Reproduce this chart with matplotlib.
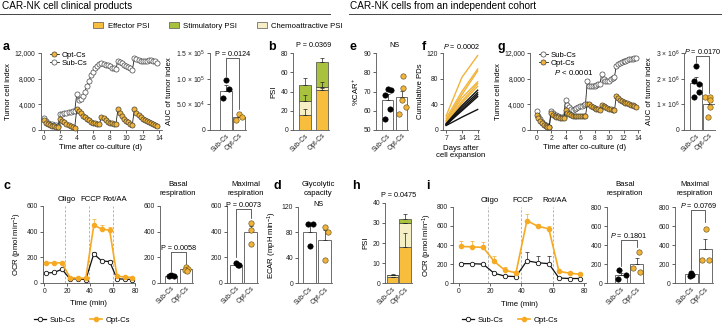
import numpy as np
import matplotlib.pyplot as plt
from matplotlib.lines import Line2D
from matplotlib.patches import Patch

plt.rcParams['font.family'] = ['Liberation Sans', 'DejaVu Sans']
plt.rcParams['mathtext.fontset'] = 'custom'
plt.rcParams['mathtext.rm'] = 'Liberation Sans'
plt.rcParams['mathtext.it'] = 'Liberation Sans:italic'
plt.rcParams['axes.linewidth'] = 0.6

GOLD = '#F0B43A'
ORANGE = '#F6AA24'
EFF = '#F7BE3E'
STIM = '#A9C23E'
CHEMO = '#F6EFC6'
BAR = '#555555'
AX = '#555555'
GROUPS = ['Sub-Cs', 'Opt-Cs']

# ---- data -------------------------------------------------------------
# tumor cell index (panels a, g)
t_tumor = [0, 0.25, 0.5, 0.75, 1.0, 1.25, 1.5, 1.75,
           2.0, 2.25, 2.5, 2.75, 3.0, 3.25, 3.5, 3.75,
           4.0, 4.25, 4.5, 4.75, 5.0, 5.25, 5.5, 5.75, 6.0, 6.25, 6.5, 6.75,
           7.0, 7.25, 7.5, 7.75, 8.0, 8.25, 8.5, 8.75,
           9.0, 9.25, 9.5, 9.75, 10.0, 10.25, 10.5, 10.75,
           11.0, 11.25, 11.5, 11.75, 12.0, 12.25, 12.5, 12.75, 13.0, 13.25, 13.5, 13.75]
a_opt = [1500, 1150, 950, 800, 700, 600, 500, 420,
         1700, 1450, 1200, 1000, 800, 650, 500, 350,
         3200, 3000, 2600, 2250, 1950, 1700, 1500, 1300, 1150, 1050, 950, 900,
         2100, 1800, 1500, 1300, 1150, 1050, 950, 900,
         3200, 2600, 2150, 1750, 1450, 1200, 1000, 850,
         3300, 2700, 2300, 2000, 1750, 1550, 1350, 1200, 1050, 900, 800, 650]
a_sub = [1900, 1450, 1150, 1000, 900, 820, 750, 680,
         2500, 2550, 2650, 2700, 2800, 2850, 2900, 2950,
         5600, 4700, 4800, 5300, 6000, 6900, 7700, 8500, 9100, 9600, 10000, 10300,
         10400, 10300, 10200, 10100, 9900, 9700, 9600, 9500,
         10800, 10600, 10400, 10200, 10000, 9800, 9600, 9400,
         11200, 11000, 10900, 10800, 10700, 10700, 10800, 10900, 10900, 10800, 10700, 10500]
g_opt = [2300, 1800, 1400, 1100, 850, 650, 500, 400,
         2600, 2350, 2200, 2050, 1950, 1850, 1800, 1800,
         3100, 2700, 2450, 2300, 2250, 2200, 2150, 2150, 2150, 2150, 2150, 2200,
         4100, 4000, 3800, 3600, 3450, 3350, 3250, 3150,
         3900, 3800, 3600, 3450, 3350, 3250, 3150, 3050,
         5300, 5000, 4750, 4550, 4400, 4250, 4150, 4050, 3950, 3850, 3750, 3650]
g_sub = [3000, 2200, 1700, 1300, 1000, 750, 600, 500,
         3000, 2600, 2400, 2300, 2200, 2100, 2050, 2000,
         4700, 3900, 3600, 3300, 3150, 3250, 3400, 3600, 3700, 3800, 3900, 4000,
         7600, 6900, 6800, 6800, 6900, 7000, 7100, 7200,
         8800, 8000, 7700, 7600, 7700, 7900, 8100, 8300,
         10000, 10300, 10500, 10600, 10700, 10800, 10900, 11000, 11050, 11100, 11150, 11200]

# AUC of tumor index
a_auc_pts = [[97000, 80000, 62000], [32000, 26000, 20000]]
a_auc_mean = [76000, 26000]
a_auc_err = [11000, 3500]
g_auc_pts = [[2.5e6, 1.9e6, 1.8e6, 1.5e6, 1.3e6], [1.3e6, 1.3e6, 1.15e6, 0.9e6, 0.5e6]]
g_auc_mean = [1.85e6, 1.03e6]
g_auc_err = [0.2e6, 0.15e6]

# PSI stacked bars (Sub-Cs, Opt-Cs)
b_eff, b_chemo, b_stim = [15.5, 42], [14.5, 3], [17, 26]
b_eff_err, b_chemo_err, b_stim_err = [6.5, 1.5], [6, 5], [7, 4]
h_eff, h_chemo, h_stim = [3.0, 17.8], [0.9, 12.2], [0.4, 1.7]
h_eff_err, h_chemo_err, h_stim_err = [0.3, 7.2], [0.3, 0], [0.5, 2.5]

# %CAR+
e_pts = [[71.5, 71, 68, 61, 55.5], [78, 72, 65.5, 62, 58.5]]
e_mean = [65.5, 67]
e_err = [3, 3.5]

# cumulative PDs
f_days = [7, 14, 21]
f_opt = [[22, 82, 116], [18, 60, 95], [15, 55, 92], [14, 50, 75], [12, 45, 72], [10, 42, 68]]
f_sub = [[10, 38, 62], [9, 35, 58], [8, 32, 55], [8, 30, 52], [7, 20, 32]]

# OCR seahorse traces
t_ocr = [1.5, 8.5, 15.5, 22.5, 29.5, 36.5, 43.5, 50.5, 57.5, 64, 71, 77.5]
c_sub = [75, 80, 105, 30, 30, 25, 225, 170, 165, 30, 28, 25]
c_sub_err = [10, 8, 12, 5, 5, 5, 15, 10, 10, 5, 5, 5]
c_opt = [155, 155, 155, 40, 35, 35, 450, 420, 410, 50, 45, 40]
c_opt_err = [8, 8, 8, 5, 5, 5, 50, 30, 25, 5, 5, 5]
i_sub = [205, 205, 200, 105, 75, 70, 235, 215, 205, 55, 50, 50]
i_sub_err = [10, 10, 10, 10, 8, 8, 95, 75, 85, 8, 8, 8]
i_opt = [385, 380, 375, 230, 135, 110, 655, 595, 570, 125, 105, 95]
i_opt_err = [55, 60, 55, 50, 35, 15, 65, 20, 30, 15, 10, 10]
inj_times = [18.5, 39.5, 60]
inj_names = ['Oligo', 'FCCP', 'Rot/AA']

c_basal_pts = [[60, 50, 55], [120, 105, 100, 95]]
c_basal_mean, c_basal_err = [55, 105], [4, 6]
c_max_pts = [[155, 140, 135], [469, 411, 300]]
c_max_mean, c_max_err = [140, 393, ], [6, 50]
d_pts = [[93, 93, 59], [88, 80, 37]]
d_mean, d_err = [81, 68], [11, 15]
i_basal_pts = [[135, 90, 45], [330, 165, 120]]
i_basal_mean, i_basal_err = [85, 200], [25, 65]
i_max_pts = [[105, 90, 80], [570, 245, 245]]
i_max_mean, i_max_err = [95, 355], [8, 110]

# ---- layout helpers ---------------------------------------------------
W, H = 722, 324
fig = plt.figure(figsize=(W / 100, H / 100), dpi=100)


def box(l, t, r, b):
    return fig.add_axes([l / W, 1 - b / H, (r - l) / W, (b - t) / H])


def ftext(x, y, s, **kw):
    fig.text(x / W, 1 - y / H, s, **kw)


def style(ax, ylim, yticks, ylabels=None, fs=4.9):
    for s in ['top', 'right']:
        ax.spines[s].set_visible(False)
    for s in ['left', 'bottom']:
        ax.spines[s].set_color(AX)
        ax.spines[s].set_linewidth(0.6)
    ax.set_ylim(*ylim)
    ax.set_yticks(yticks)
    if ylabels is not None:
        ax.set_yticklabels(ylabels)
    ax.tick_params(labelsize=fs, width=0.5, length=2, pad=1.5, colors='#222')
    ax.patch.set_alpha(0)


def bar_axes(spine, c0, c1, top, bot, bw):
    ppu = c1 - c0
    right = c1 + bw / 2 + 1
    ax = box(spine, top, right, bot)
    ax.set_xlim(-(c0 - spine) / ppu, 1 + (right - c1) / ppu)
    ax.set_xticks([0, 1])
    ax.set_xticklabels(GROUPS, rotation=45, ha='right', rotation_mode='anchor')
    return ax, bw / ppu


def bar_panel(spine, c0, c1, top, bot, bw, means, errs, pts, offs, ylim, yticks, ylabels=None):
    ax, w = bar_axes(spine, c0, c1, top, bot, bw)
    style(ax, ylim, yticks, ylabels)
    for i in range(2):
        ax.bar(i, means[i], width=w, color='white', edgecolor=BAR, lw=0.6, zorder=1)
        ax.errorbar(i, means[i], yerr=[[0], [errs[i]]], color='#222', lw=0.5,
                    capsize=1.5, capthick=0.5, zorder=2)
        fc = 'black' if i == 0 else GOLD
        ec = 'black' if i == 0 else '#5a4410'
        ax.scatter([i + o for o in offs[i]], pts[i], s=15, color=fc, edgecolor=ec,
                   lw=0.4, zorder=3, clip_on=False)
    ax.tick_params(axis='x', labelsize=4.9, length=0)
    return ax


def bracket(ax, y, yl, yr, text, fs=5.2):
    ax.plot([0, 0, 1, 1], [yl, y, y, yr], color='#222', lw=0.5, clip_on=False)
    ax.text(0.5, y, text, ha='center', va='bottom', fontsize=fs)


def stacked(spine, c0, c1, top, bot, bw, eff, chemo, stim, ee, ce, se, ylim, yticks):
    ax, w = bar_axes(spine, c0, c1, top, bot, bw)
    style(ax, ylim, yticks)
    x = [0, 1]
    b2 = [e + c for e, c in zip(eff, chemo)]
    b3 = [v + s for v, s in zip(b2, stim)]
    ax.bar(x, eff, width=w, color=EFF, edgecolor='#444', lw=0.5)
    ax.bar(x, chemo, bottom=eff, width=w, color=CHEMO, edgecolor='#444', lw=0.5)
    ax.bar(x, stim, bottom=b2, width=w, color=STIM, edgecolor='#444', lw=0.5)
    for tops, err in [(eff, ee), (b2, ce), (b3, se)]:
        ax.errorbar(x, tops, yerr=[[0, 0], err], fmt='none', ecolor='#222', lw=0.5,
                    capsize=1.5, capthick=0.5)
    ax.tick_params(axis='x', labelsize=4.9, length=0)
    return ax


def tumor_panel(l, r, xlim, t, first, second, first_lab, second_lab, first_gold):
    ax = box(l, 53, r, 130)
    style(ax, (0, 12000), [0, 4000, 8000, 12000], ['0', '4,000', '8,000', '12,000'])
    ax.set_xlim(*xlim)
    ax.set_xticks(range(0, 15, 2))
    ax.tick_params(axis='x', labelsize=4.9)
    for vals, lab, gold in [(second, second_lab, not first_gold), (first, first_lab, first_gold)]:
        ax.plot(t, vals, color='#222', lw=0.6, marker='o', ms=3.7,
                mfc=GOLD if gold else 'white', mec='#333', mew=0.45, clip_on=False,
                label=lab, zorder=3 if gold else 2)
    ax.set_ylabel('Tumor cell index', fontsize=5.6, labelpad=2)
    ax.set_xlabel('Time after co-culture (d)', fontsize=5.6, labelpad=1.5)
    h, lb = ax.get_legend_handles_labels()
    return ax, h[::-1], lb[::-1]


def ocr_panel(l, r, top, bot, xlim, ylim, yticks, sub, sube, opt, opte, fs_lab=5.6):
    ax = box(l, top, r, bot)
    style(ax, ylim, yticks)
    ax.set_xlim(*xlim)
    ax.set_xticks([0, 20, 40, 60, 80])
    for x in inj_times:
        ax.axvline(x, color='#aaaaaa', lw=0.6, ls=(0, (3, 2)), zorder=0)
    ax.errorbar(t_ocr, opt, yerr=[[0] * len(opte), opte], fmt='none', ecolor=ORANGE,
                lw=0.5, capsize=1.5, capthick=0.5)
    ax.errorbar(t_ocr, sub, yerr=[[0] * len(sube), sube], fmt='none', ecolor='#222',
                lw=0.5, capsize=1.5, capthick=0.5)
    ax.plot(t_ocr, sub, color='#111', lw=0.9, marker='o', ms=3.2, mfc='white',
            mec='#111', mew=0.6, label='Sub-Cs', clip_on=False, zorder=3)
    ax.plot(t_ocr, opt, color=ORANGE, lw=1.2, marker='o', ms=3.0, mfc=ORANGE,
            mec=ORANGE, label='Opt-Cs', clip_on=False, zorder=3)
    ax.set_ylabel('OCR (pmol min$^{-1}$)', fontsize=fs_lab, labelpad=2)
    ax.set_xlabel('Time (min)', fontsize=fs_lab, labelpad=4)
    for x, n in zip(inj_times, inj_names):
        ax.text(x + 1.5, ylim[1] * 1.04, n, ha='center', va='bottom', fontsize=5.6)
    return ax


# ---- headers ----------------------------------------------------------
ftext(2, 6, 'CAR-NK cell clinical products', fontsize=7.2, va='center')
ftext(350, 6, 'CAR-NK cells from an independent cohort', fontsize=7.2, va='center')
fig.add_artist(Line2D([0, 330 / W], [1 - 14 / H] * 2, color='#444', lw=0.7))
fig.add_artist(Line2D([349 / W, 1], [1 - 14 / H] * 2, color='#444', lw=0.7))

for x, y, s in [(3, 47, 'a'), (268, 47, 'b'), (350, 47, 'e'), (422, 47, 'f'), (497, 47, 'g'),
                (4, 186, 'c'), (273, 186, 'd'), (352, 186, 'h'), (426, 186, 'i')]:
    ftext(x, y, s, fontsize=9, fontweight='bold', va='center')

# PSI legend
psi_handles = [Patch(facecolor=c, edgecolor='#555', lw=0.5, label=l) for c, l in
               [(EFF, 'Effector PSI'), (STIM, 'Stimulatory PSI'), (CHEMO, 'Chemoattractive PSI')]]
fig.legend(handles=psi_handles, loc='center', bbox_to_anchor=(218 / W, 1 - 26 / H), ncol=3,
           frameon=False, fontsize=5.6, handlelength=1.3, handleheight=0.8, columnspacing=2.5,
           handletextpad=0.6)

# ---- a ----------------------------------------------------------------
ax, hh, ll = tumor_panel(40.5, 161.6, (-0.4, 14.3), t_tumor, a_opt, a_sub, 'Opt-Cs', 'Sub-Cs', True)
ax.legend(hh, ll, loc='upper left', bbox_to_anchor=(0.05, 1.06), frameon=False, fontsize=5.6,
          handlelength=1.2, handletextpad=0.4, labelspacing=0.05, borderaxespad=0)

ax = bar_panel(210, 226, 239, 53, 130, 12.5, a_auc_mean, a_auc_err, a_auc_pts,
               [[0, 0.25, -0.2], [0, 0.22, -0.2]], (0, 150000), [0, 50000, 100000, 150000],
               ['0', '5.0 × 10$^4$', '1.0 × 10$^5$', '1.5 × 10$^5$'])
ax.set_ylabel('AUC of tumor index', fontsize=5.6, labelpad=2)
bracket(ax, 140000, 105000, 40000, 'P = 0.0124')

# ---- b ----------------------------------------------------------------
ax = stacked(293, 305, 321.5, 53, 130, 12, b_eff, b_chemo, b_stim, b_eff_err, b_chemo_err,
             b_stim_err, (0, 80), [0, 20, 40, 60, 80])
ax.set_ylabel('PSI', fontsize=5.6, labelpad=2)
ax.text(0.5, 84, 'P = 0.0369', ha='center', va='bottom', fontsize=5.2)

# ---- e ----------------------------------------------------------------
ax = bar_panel(376, 387.5, 401.5, 53, 130, 11.5, e_mean, e_err, e_pts,
               [[0.05, 0.25, -0.15, 0.2, -0.15], [0.1, 0.1, 0.05, 0.3, -0.15]],
               (50, 90), [50, 60, 70, 80, 90])
ax.set_ylabel('%CAR$^{+}$', fontsize=5.6, labelpad=2)
ax.text(0.5, 92, 'NS', ha='center', va='bottom', fontsize=5.2)

# ---- f ----------------------------------------------------------------
ax = box(443, 53, 479, 130)
style(ax, (0, 120), [0, 40, 80, 120])
ax.set_xlim(5.6, 21.6)
ax.set_xticks(f_days)
for ys in f_opt:
    ax.plot(f_days, ys, color=GOLD, lw=1.0, clip_on=False)
for ys in f_sub:
    ax.plot(f_days, ys, color='#111', lw=1.0, clip_on=False)
ax.set_ylabel('Cumulative PDs', fontsize=5.6, labelpad=2)
ax.set_xlabel('Days after\ncell expansion', fontsize=5.6, labelpad=2, linespacing=1.1)
ax.text(14, 123, '$\\it{P}$ = 0.0002', ha='center', va='bottom', fontsize=5.2)

# ---- g ----------------------------------------------------------------
ax, hh, ll = tumor_panel(530, 639.5, (-0.9, 14.2), t_tumor, g_sub, g_opt, 'Sub-Cs', 'Opt-Cs', False)
ax.legend(hh, ll, loc='upper left', bbox_to_anchor=(0.05, 1.06), frameon=False, fontsize=5.6,
          handlelength=1.2, handletextpad=0.4, labelspacing=0.05, borderaxespad=0)
ax.text(0.22, 0.75, '$\\it{P}$ < 0.0001', transform=ax.transAxes, fontsize=5.6, va='center')

ax = bar_panel(684, 696, 708.5, 53, 130, 12, g_auc_mean, g_auc_err, g_auc_pts,
               [[0, -0.2, 0.22, 0.22, -0.15], [-0.25, 0.15, 0.1, 0.15, -0.05]],
               (0, 3e6), [0, 1e6, 2e6, 3e6],
               ['0', '1 × 10$^6$', '2 × 10$^6$', '3 × 10$^6$'])
ax.set_ylabel('AUC of tumor index', fontsize=5.6, labelpad=2)
bracket(ax, 2.9e6, 2.65e6, 1.45e6, '$\\it{P}$ = 0.0170')

# ---- c ----------------------------------------------------------------
ax = ocr_panel(42.7, 135.2, 206, 282.7, (-1.5, 80), (0, 600), [0, 200, 400, 600],
               c_sub, c_sub_err, c_opt, c_opt_err)
fig.legend(*ax.get_legend_handles_labels(), loc='center', bbox_to_anchor=(82 / W, 1 - 320 / H),
           ncol=2, frameon=False, fontsize=5.6, handlelength=1.6, columnspacing=1.8,
           handletextpad=0.5)

ax = bar_panel(160, 171, 186, 206, 282.7, 12, c_basal_mean, c_basal_err, c_basal_pts,
               [[0, 0.2, -0.15], [0, 0.1, -0.1, 0.05]], (0, 600), [0, 200, 400, 600])
bracket(ax, 243, 90, 150, 'P = 0.0058')
ftext(178, 189, 'Basal\nrespiration', fontsize=5.6, ha='center', va='center', linespacing=1.3)

ax = bar_panel(227, 236, 250.5, 206, 282.7, 12.5, c_max_mean, c_max_err, c_max_pts,
               [[0, 0.2, 0.12], [0, 0, 0]], (0, 600), [0, 200, 400, 600])
bracket(ax, 574, 200, 510, 'P = 0.0073')
ftext(246, 189, 'Maximal\nrespiration', fontsize=5.6, ha='center', va='center', linespacing=1.3)

# ---- d ----------------------------------------------------------------
ax = bar_panel(298, 309.5, 324.5, 206.7, 283.3, 13, d_mean, d_err, d_pts,
               [[-0.1, 0.2, 0], [0.05, 0.2, 0.05]], (0, 120), [0, 40, 80, 120])
ax.set_ylabel('ECAR (mpH min$^{-1}$)', fontsize=5.6, labelpad=2)
ftext(318, 189, 'Glycolytic\ncapacity', fontsize=5.6, ha='center', va='center', linespacing=1.3)
ftext(318, 205, 'NS', fontsize=5.2, ha='center', va='center')

# ---- h ----------------------------------------------------------------
ax = stacked(385, 392.5, 405, 202.7, 283.3, 11.5, h_eff, h_chemo, h_stim, h_eff_err, h_chemo_err,
             h_stim_err, (0, 40), [0, 10, 20, 30, 40])
ax.set_ylabel('PSI', fontsize=5.6, labelpad=2)
ax.text(0.5, 42, 'P = 0.0475', ha='center', va='bottom', fontsize=5.2)

# ---- i ----------------------------------------------------------------
ax = ocr_panel(453, 586, 206.7, 283.3, (-3.8, 81.3), (0, 800), [0, 200, 400, 600, 800],
               i_sub, i_sub_err, i_opt, i_opt_err)
fig.legend(*ax.get_legend_handles_labels(), loc='center', bbox_to_anchor=(510 / W, 1 - 320 / H),
           ncol=2, frameon=False, fontsize=5.6, handlelength=1.6, columnspacing=1.8,
           handletextpad=0.5)

ax = bar_panel(607, 621, 636.5, 207, 283.3, 12.5, i_basal_mean, i_basal_err, i_basal_pts,
               [[-0.1, 0.3, -0.2], [0.15, -0.25, 0.2]], (0, 800), [0, 200, 400, 600, 800])
bracket(ax, 456, 180, 380, '$\\it{P}$ = 0.1801')
ftext(625, 189, 'Basal\nrespiration', fontsize=5.6, ha='center', va='center', linespacing=1.3)

ax = bar_panel(675, 691, 705, 207, 283.3, 13, i_max_mean, i_max_err, i_max_pts,
               [[0, 0.05, -0.05], [0.1, -0.25, 0.25]], (0, 800), [0, 200, 400, 600, 800])
bracket(ax, 770, 150, 640, '$\\it{P}$ = 0.0769')
ftext(695, 189, 'Maximal\nrespiration', fontsize=5.6, ha='center', va='center', linespacing=1.3)

fig.savefig('out.png', dpi=100)
